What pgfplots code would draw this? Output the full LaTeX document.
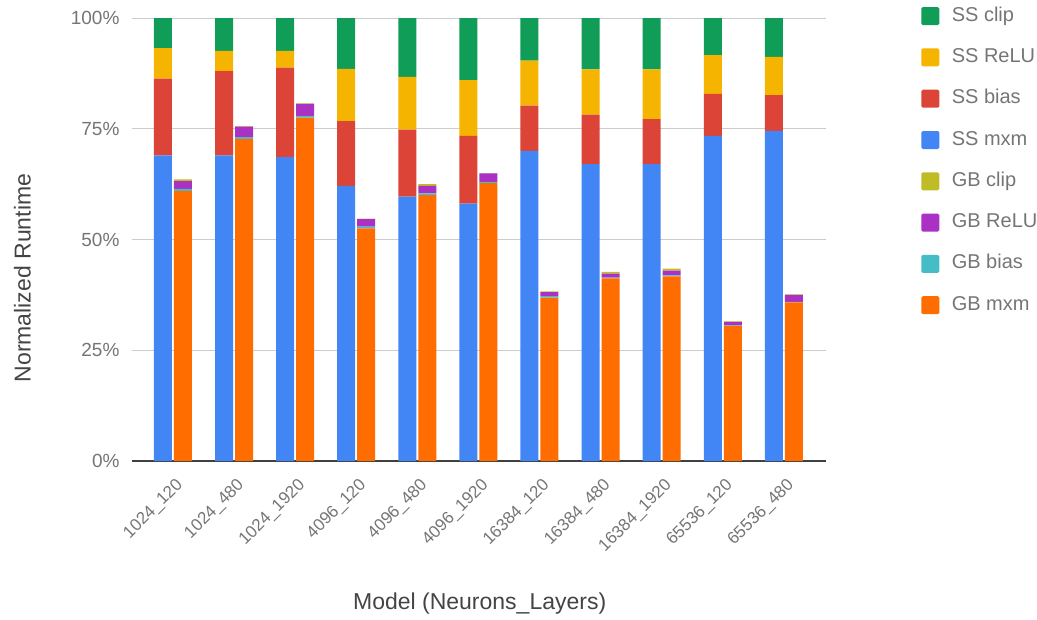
\documentclass[border=0pt]{standalone}
\usepackage{pgfplots}
\pgfplotsset{compat=1.18}
\usepackage{pgfplotstable}
\usepackage{fontspec}
\setmainfont{Liberation Sans}

\definecolor{ssmxm}{HTML}{4285F4}
\definecolor{ssbias}{HTML}{DB4437}
\definecolor{ssrelu}{HTML}{F4B400}
\definecolor{ssclip}{HTML}{0F9D58}
\definecolor{gbmxm}{HTML}{FF6D00}
\definecolor{gbbias}{HTML}{46BDC6}
\definecolor{gbrelu}{HTML}{AB30C4}
\definecolor{gbclip}{HTML}{C0BC26}
\definecolor{ticktext}{HTML}{757575}
\definecolor{titletext}{HTML}{444444}
\definecolor{gridgray}{HTML}{CCCCCC}

% SS = first bar of each group, GB = second bar
\pgfplotstableread{
x mxm bias relu clip
0  69.0 17.3  6.9  6.8
1  69.0 19.0  4.6  7.4
2  68.6 20.2  3.8  7.4
3  62.1 14.6 11.8 11.5
4  59.7 15.1 11.9 13.3
5  58.1 15.3 12.6 14.0
6  70.0 10.2 10.2  9.6
7  67.0 11.2 10.2 11.6
8  67.0 10.2 11.2 11.6
9  73.4  9.5  8.7  8.4
10 74.5  8.1  8.6  8.8
}\sstable

\pgfplotstableread{
x mxm bias relu clip
0  61.0 0.4 1.8 0.4
1  72.7 0.4 2.4 0.1
2  77.5 0.4 2.7 0.1
3  52.5 0.4 1.7 0.1
4  60.0 0.4 1.7 0.4
5  62.7 0.3 1.9 0.1
6  36.9 0.3 0.9 0.2
7  41.2 0.2 0.9 0.4
8  41.7 0.2 1.1 0.4
9  30.5 0.1 0.8 0.1
10 35.8 0.1 1.6 0.1
}\gbtable

\pgfplotsset{
  frame/.style={
    scale only axis, width=694pt, height=443pt,
    at={(0,0)}, anchor=south west,
    xmin=-0.67, xmax=10.69, ymin=0, ymax=100,
  },
  legsq/.style={legend image code/.code={
    \path[fill=#1, draw=none, rounded corners=1.5pt] (0pt,-9pt) rectangle (18pt,9pt);}},
}

\begin{document}
\begin{tikzpicture}
\path[use as bounding box] (-132pt,-158pt) rectangle (905pt,461pt);

% SS bars, grid and labels
\begin{axis}[
  frame,
  ybar stacked, bar width=18pt, bar shift=-10pt,
  axis x line*=bottom, axis y line*=left,
  x axis line style={draw=black!75, line width=1.3pt},
  y axis line style={draw=none},
  major tick length=0pt,
  ymajorgrids, grid style={gridgray, line width=1pt},
  ytick={0,25,50,75,100},
  yticklabels={0\%,25\%,50\%,75\%,100\%},
  xtick={0,...,10},
  xticklabels={1024\_120,1024\_480,1024\_1920,4096\_120,4096\_480,4096\_1920,
    16384\_120,16384\_480,16384\_1920,65536\_120,65536\_480},
  ticklabel style={text=ticktext},
  yticklabel style={font=\fontsize{19}{22}\selectfont, xshift=-9pt},
  xticklabel style={font=\fontsize{17}{20}\selectfont, rotate=45,
    anchor=north east, yshift=-9.4pt, xshift=-6.6pt},
  xlabel={Model (Neurons\_Layers)},
  ylabel={Normalized Runtime},
  label style={font=\fontsize{23}{26}\selectfont, text=titletext},
  xlabel style={at={(axis description cs:0.501,-0.322)}, anchor=center},
  ylabel style={at={(axis description cs:-0.158,0.413)}, anchor=center},
]
\addplot[fill=ssmxm, draw=none] table[x=x, y=mxm] {\sstable};
\addplot[fill=ssbias, draw=none] table[x=x, y=bias] {\sstable};
\addplot[fill=ssrelu, draw=none] table[x=x, y=relu] {\sstable};
\addplot[fill=ssclip, draw=none] table[x=x, y=clip] {\sstable};
\end{axis}

% GB bars
\begin{axis}[
  frame, hide axis,
  ybar stacked, bar width=18pt, bar shift=10pt,
]
\addplot[fill=gbmxm, draw=none] table[x=x, y=mxm] {\gbtable};
\addplot[fill=gbbias, draw=none] table[x=x, y=bias] {\gbtable};
\addplot[fill=gbrelu, draw=none] table[x=x, y=relu] {\gbtable};
\addplot[fill=gbclip, draw=none] table[x=x, y=clip] {\gbtable};
\end{axis}

% legend
\begin{axis}[
  frame, hide axis,
  legend style={at={(axis description cs:1.137,1.025)}, anchor=north west,
    draw=none, fill=none, inner sep=0pt, row sep=23.3pt,
    font=\fontsize{20}{23}\selectfont, text=ticktext,
    nodes={inner xsep=12.5pt, inner ysep=0pt, text height=14pt, text depth=4pt}},
  legend cell align=left,
]
\addlegendimage{legsq=ssclip}\addlegendentry{SS clip}
\addlegendimage{legsq=ssrelu}\addlegendentry{SS ReLU}
\addlegendimage{legsq=ssbias}\addlegendentry{SS bias}
\addlegendimage{legsq=ssmxm}\addlegendentry{SS mxm}
\addlegendimage{legsq=gbclip}\addlegendentry{GB clip}
\addlegendimage{legsq=gbrelu}\addlegendentry{GB ReLU}
\addlegendimage{legsq=gbbias}\addlegendentry{GB bias}
\addlegendimage{legsq=gbmxm}\addlegendentry{GB mxm}
\end{axis}
\end{tikzpicture}
\end{document}
